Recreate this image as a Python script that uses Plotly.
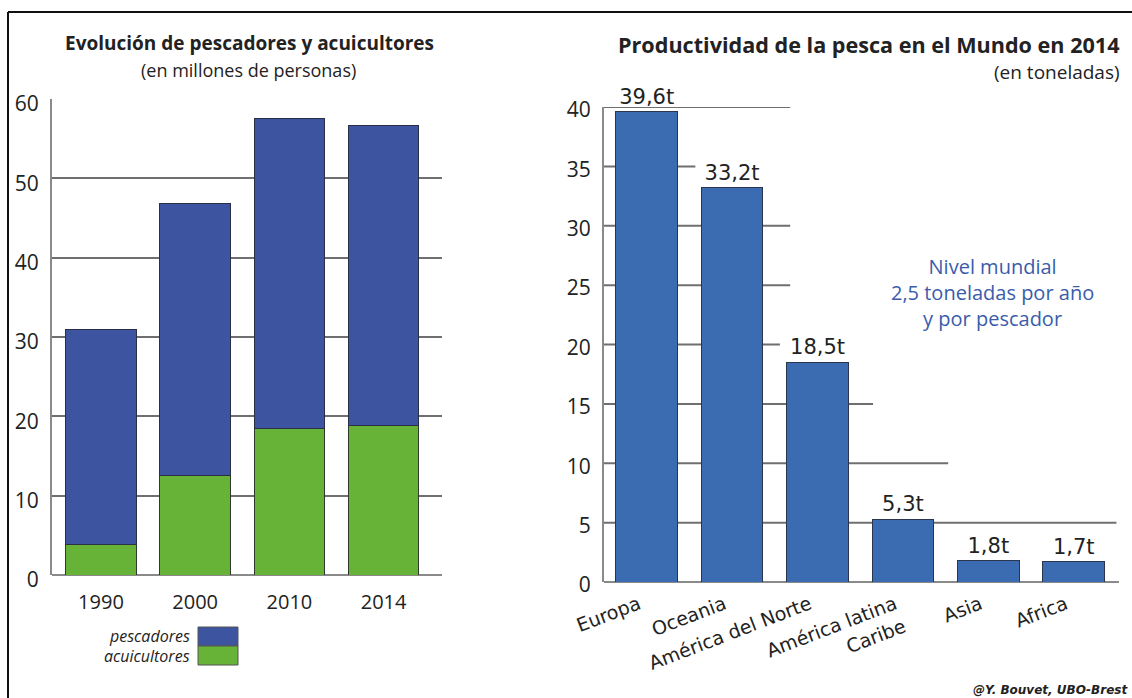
import plotly.graph_objects as go

# ---- data: fishers and fish farmers (millions of people) ----
years = ["1990", "2000", "2010", "2014"]
acuicultores = [3.9, 12.6, 18.5, 18.9]
pescadores = [27.1, 34.2, 39.1, 37.7]

# ---- data: productivity per fisher in 2014 (tonnes) ----
regiones = ["Europa", "Oceania", "América del Norte", "América latina<br>Caribe", "Asia", "Africa"]
toneladas = [39.6, 33.2, 18.5, 5.3, 1.8, 1.7]

W, H = 1132, 698
BLUE_L = "#3D55A0"
GREEN = "#67B337"
BLUE_R = "#3B6CB2"
GRID = "#6f6f6f"
AXIS = "#8a8a8a"
TXT = "#222222"


def px(x):
    return x / W


def py(y):
    return 1 - y / H


fig = go.Figure()

fig.add_trace(go.Bar(x=years, y=acuicultores, name="acuicultores",
                     marker=dict(color=GREEN, line=dict(color="#2f3a2a", width=1)),
                     width=0.75, xaxis="x", yaxis="y", showlegend=False))
fig.add_trace(go.Bar(x=years, y=pescadores, name="pescadores",
                     marker=dict(color=BLUE_L, line=dict(color="#2a2f44", width=1)),
                     width=0.75, xaxis="x", yaxis="y", showlegend=False))

labels = [f"{v:.1f}".replace(".", ",") + "t" for v in toneladas]
fig.add_trace(go.Bar(x=list(range(len(regiones))), y=toneladas, text=labels, textposition="outside",
                     textfont=dict(family="DejaVu Sans", size=21, color=TXT), cliponaxis=False,
                     marker=dict(color=BLUE_R, line=dict(color="#2a3550", width=1)),
                     width=0.72, xaxis="x2", yaxis="y2", showlegend=False))

# staggered guide lines of the productivity panel (value -> right end, in category units)
right_grid_ends = {5: 5.5, 10: 3.53, 15: 2.65, 20: 1.56, 25: 1.68, 30: 1.68, 35: 0.57, 40: 1.68}
shapes = []
for val, end in right_grid_ends.items():
    shapes.append(dict(type="line", xref="x2", yref="y2", x0=-0.5, x1=end, y0=val, y1=val,
                       line=dict(color=GRID, width=2), layer="below"))

# page frame
shapes.append(dict(type="line", xref="paper", yref="paper", x0=px(8), x1=1, y0=py(12), y1=py(12),
                   line=dict(color="#111", width=2)))
shapes.append(dict(type="line", xref="paper", yref="paper", x0=px(8), x1=px(8), y0=py(12), y1=0,
                   line=dict(color="#111", width=2)))

# legend swatches
shapes.append(dict(type="rect", xref="paper", yref="paper", x0=px(198), x1=px(238), y0=py(646), y1=py(627),
                   fillcolor=BLUE_L, line=dict(color="#555", width=1)))
shapes.append(dict(type="rect", xref="paper", yref="paper", x0=px(198), x1=px(238), y0=py(665), y1=py(646),
                   fillcolor=GREEN, line=dict(color="#555", width=1)))

ann = []


def text(x, y, s, size, xanchor="center", bold=False, italic=False, color=TXT, family="Open Sans"):
    if bold:
        s = f"<b>{s}</b>"
    if italic:
        s = f"<i>{s}</i>"
    ann.append(dict(xref="paper", yref="paper", x=px(x), y=py(y), text=s, showarrow=False,
                    xanchor=xanchor, yanchor="middle", font=dict(family=family, size=size, color=color)))


text(249, 43, "Evolución de pescadores y acuicultores", 19, bold=True)
text(248, 70, "(en millones de personas)", 18)
text(1122, 45, "Productividad de la pesca en el Mundo en 2014", 21.6, xanchor="right", bold=True)
text(1122, 72, "(en toneladas)", 19, xanchor="right")
text(192, 636, "pescadores", 16, xanchor="right", italic=True)
text(192, 656, "acuicultores", 16, xanchor="right", italic=True)
text(992, 293, "Nivel mundial<br>2,5 toneladas por año<br>y por pescador", 20, color="#3A5CAA")
text(1130, 690, "@Y. Bouvet, UBO-Brest", 12, xanchor="right", bold=True, italic=True, family="DejaVu Sans")

fig.update_layout(
    width=W, height=H,
    margin=dict(l=0, r=0, t=0, b=0, autoexpand=False),
    paper_bgcolor="white", plot_bgcolor="rgba(0,0,0,0)",
    barmode="stack", bargap=0.25,
    shapes=shapes, annotations=ann,
    xaxis=dict(domain=[px(52), px(442)], range=[-0.52, 3.62], type="category",
               showgrid=False, zeroline=False, showline=False, ticks="", ticklabelstandoff=13,
               tickfont=dict(family="Open Sans", size=20, color=TXT)),
    yaxis=dict(domain=[py(575), py(99)], range=[0, 60], dtick=10,
               showgrid=True, gridcolor=GRID, gridwidth=2, zeroline=True, zerolinecolor=AXIS, zerolinewidth=2,
               showline=True, linecolor=AXIS, linewidth=2, ticks="", ticklabelstandoff=7, ticklabelshift=5,
               tickfont=dict(family="Open Sans", size=21, color=TXT)),
    xaxis2=dict(domain=[px(604), px(1119)], range=[-0.5, 5.53],
                tickmode="array", tickvals=list(range(len(regiones))), ticktext=regiones, tickangle=-21,
                showgrid=False, zeroline=False, showline=False, ticks="", ticklabelstandoff=14, ticklabelshift=-8,
                tickfont=dict(family="DejaVu Sans", size=19, color=TXT)),
    yaxis2=dict(domain=[py(582), py(107)], range=[0, 40], dtick=5, anchor="x2",
                showgrid=False, zeroline=True, zerolinecolor=AXIS, zerolinewidth=2,
                showline=True, linecolor=AXIS, linewidth=2, ticks="", ticklabelstandoff=7, ticklabelshift=3,
                tickfont=dict(family="Open Sans", size=21, color=TXT)),
)

fig.write_html("out.html")
